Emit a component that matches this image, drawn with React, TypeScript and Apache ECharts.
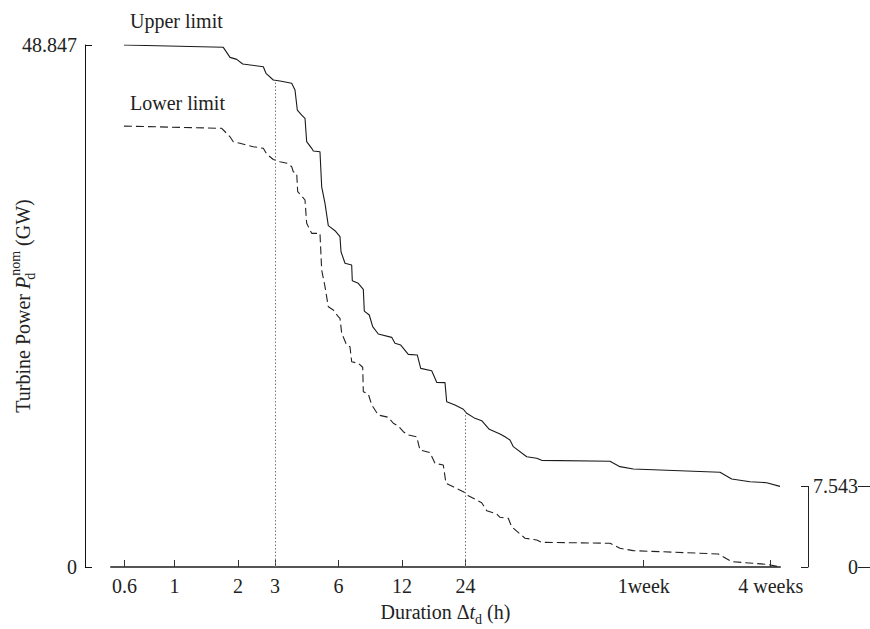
import React, { useEffect, useRef } from "react";
import * as echarts from "echarts";

// Duration (hours) and turbine power (GW)
const upperHours = [0.576, 1.704, 1.834, 1.973, 2.106, 2.638, 2.716, 2.942, 3.165, 3.596, 3.729, 3.824, 4.012, 4.159, 4.236, 4.474, 4.553, 4.898, 4.99, 5.174, 5.364, 5.771, 6.095, 6.162, 6.437, 6.924, 6.97, 7.44, 7.862, 7.948, 8.39, 8.71, 9.26, 10.72, 11.11, 11.83, 12.85, 14.17, 14.71, 16.59, 17.52, 19.18, 19.54, 21.39, 23.43, 24.31, 26.62, 28.64, 31.11, 34.98, 36.94, 39.0, 40.45, 46.81, 52.21, 55.14, 116.2, 129.6, 149.9, 386.4, 439.1, 536.3, 643.5, 744];
const upperGW = [48.847, 48.63, 47.69, 47.5, 47.07, 46.81, 46.2, 45.57, 45.48, 45.26, 44.63, 42.76, 42.29, 41.99, 39.8, 39.18, 38.93, 38.86, 35.58, 34.03, 31.94, 31.47, 30.91, 29.5, 28.42, 28.26, 26.79, 26.55, 25.98, 23.95, 23.58, 22.49, 21.8, 21.49, 20.93, 20.77, 19.9, 19.84, 18.59, 18.37, 17.28, 17.25, 15.47, 15.16, 14.76, 14.38, 13.91, 13.69, 12.88, 12.45, 12.19, 11.88, 11.26, 10.32, 10.17, 9.98, 9.89, 9.39, 9.17, 8.86, 8.23, 7.98, 7.89, 7.543];

const lowerHours = [0.576, 1.675, 1.834, 1.9, 2.045, 2.365, 2.638, 2.737, 2.942, 3.165, 3.418, 3.596, 3.659, 3.798, 3.84, 4.012, 4.159, 4.236, 4.474, 4.898, 4.99, 5.174, 5.364, 5.666, 5.984, 6.095, 6.209, 6.556, 6.797, 6.924, 7.44, 7.81, 7.862, 8.3, 8.62, 9.26, 10.33, 10.91, 11.52, 12.17, 12.85, 14.08, 14.6, 16.28, 17.2, 18.83, 19.39, 21.0, 23.43, 24.74, 28.64, 30.25, 33.74, 34.98, 38.29, 39.73, 45.95, 52.21, 55.14, 116.2, 129.6, 149.9, 379.2, 439.1, 643.5, 744];
const lowerGW = [41.26, 41.05, 40.26, 39.8, 39.65, 39.33, 39.18, 38.65, 38.13, 37.92, 37.78, 37.46, 36.99, 36.84, 35.12, 34.72, 34.34, 32.16, 31.22, 31.22, 27.79, 26.23, 24.36, 24.05, 23.42, 23.27, 21.87, 20.77, 20.61, 19.21, 19.06, 18.69, 16.4, 16.19, 15.16, 14.22, 14.01, 13.45, 13.19, 12.66, 12.35, 12.19, 10.95, 10.7, 9.7, 9.54, 7.83, 7.51, 7.05, 6.67, 6.02, 5.27, 4.96, 4.65, 4.56, 3.77, 2.69, 2.53, 2.31, 2.22, 1.75, 1.53, 1.22, 0.5, 0.25, 0];

const xTickHours = [0.58, 1, 2, 3, 6, 12, 24, 168, 672];
const xTickLabels = ["0.6", "1", "2", "3", "6", "12", "24", "1week", "4 weeks"];
const xMinHours = 0.5;
const xMaxHours = 744;

const yLeftTicks = [0, 48.847];
const yRightTicks = [0, 7.543];
const markerHours = [3, 24];

const FONT = '"Liberation Serif", "Times New Roman", serif';
const FS = 20;
const L = (h: number) => Math.log10(h);

function interpUpper(h: number) {
  const lh = L(h);
  for (let i = 0; i < upperHours.length - 1; i++) {
    const a = L(upperHours[i]);
    const b = L(upperHours[i + 1]);
    if (lh >= a && lh <= b) {
      const t = (lh - a) / (b - a);
      return upperGW[i] + t * (upperGW[i + 1] - upperGW[i]);
    }
  }
  return upperGW[upperGW.length - 1];
}

export default function App() {
  const ref = useRef<HTMLDivElement>(null);
  useEffect(() => {
    document.body.style.margin = "0";
    if (!ref.current) return;
    const chart = echarts.init(ref.current, undefined, { renderer: "svg" });
    const tickLogs = xTickHours.map(L);
    const fmtX = (v: number) => {
      let best = 0;
      let bd = Infinity;
      tickLogs.forEach((t, i) => {
        const d = Math.abs(t - v);
        if (d < bd) {
          bd = d;
          best = i;
        }
      });
      return xTickLabels[best];
    };
    const fmtY = (v: number) => (Math.abs(v) < 1e-9 ? "0" : String(v));
    const richBase = {
      it: { fontStyle: "italic", fontSize: FS, fontFamily: FONT, color: "#222" },
      sub: { fontSize: 14, fontFamily: FONT, color: "#222", padding: [15, 0, 0, 0] },
      subz: { fontSize: 14, fontFamily: FONT, color: "#222", padding: [15, 0, 0, 0], width: 1 },
      sup: { fontSize: 14, fontFamily: FONT, color: "#222", padding: [0, 0, 15, 0] },
    };
    const option: any = {
      animation: false,
      textStyle: { fontFamily: FONT },
      grid: [
        { left: 111, right: 90, top: 45, bottom: 62, outerBoundsMode: "none", containLabel: false },
        { left: 700, right: 62, top: 486.4, bottom: 62, outerBoundsMode: "none", containLabel: false },
      ],
      xAxis: [
        {
          type: "value",
          gridIndex: 0,
          min: L(xMinHours),
          max: L(xMaxHours),
          axisLine: { show: true, onZero: false, lineStyle: { color: "#555", width: 2 } },
          axisTick: {
            show: true,
            inside: true,
            length: 7,
            customValues: tickLogs,
            lineStyle: { color: "#333", width: 1 },
          },
          axisLabel: {
            customValues: tickLogs,
            formatter: fmtX,
            margin: 9,
            fontSize: FS,
            fontFamily: FONT,
            color: "#222",
          },
          splitLine: { show: false },
          name: "Duration Δ{it|t}{sub|d} (h)",
          nameLocation: "middle",
          nameGap: 30,
          nameMoveOverlap: false,
          nameTextStyle: { fontSize: FS, fontFamily: FONT, color: "#222", rich: richBase },
        },
        { type: "value", gridIndex: 1, show: false, min: 0, max: 1 },
      ],
      yAxis: [
        {
          type: "value",
          gridIndex: 0,
          min: 0,
          max: 48.847,
          offset: 26,
          axisLine: { show: true, onZero: false, lineStyle: { color: "#111", width: 1 } },
          axisTick: { show: true, inside: true, length: 7, customValues: yLeftTicks, lineStyle: { color: "#111" } },
          axisLabel: { customValues: yLeftTicks, formatter: fmtY, margin: 8, fontSize: FS, fontFamily: FONT, color: "#222" },
          splitLine: { show: false },
          name: "Turbine Power {it|P}{subz|d}{sup|nom} (GW)",
          nameLocation: "middle",
          nameGap: 48,
          nameMoveOverlap: false,
          nameRotate: 90,
          nameTextStyle: { fontSize: FS, fontFamily: FONT, color: "#222", rich: richBase },
        },
        {
          type: "value",
          gridIndex: 1,
          position: "right",
          min: 0,
          max: 7.543,
          axisLine: { show: true, onZero: false, lineStyle: { color: "#222", width: 1 } },
          axisTick: { show: true, inside: true, length: 7, customValues: yRightTicks, lineStyle: { color: "#222" } },
          axisLabel: {
            customValues: yRightTicks,
            formatter: fmtY,
            align: "right",
            margin: 50,
            fontSize: FS,
            fontFamily: FONT,
            color: "#222",
          },
          splitLine: { show: false },
        },
        {
          type: "value",
          gridIndex: 1,
          position: "right",
          offset: 50,
          min: 0,
          max: 7.543,
          axisLine: { show: false, onZero: false },
          axisTick: { show: true, inside: false, length: 12, customValues: yRightTicks, lineStyle: { color: "#222" } },
          axisLabel: { show: false },
          splitLine: { show: false },
        },
      ],
      graphic: [
        { type: "text", left: 130, top: 11, style: { text: "Upper limit", font: `${FS}px ${FONT}`, fill: "#222" } },
        { type: "text", left: 130, top: 93, style: { text: "Lower limit", font: `${FS}px ${FONT}`, fill: "#222" } },
      ],
      series: [
        {
          type: "line",
          xAxisIndex: 0,
          yAxisIndex: 0,
          data: upperHours.map((h, i) => [L(h), upperGW[i]]),
          showSymbol: false,
          lineStyle: { color: "#1a1a1a", width: 1.1 },
          z: 3,
          markLine: {
            silent: true,
            symbol: "none",
            label: { show: false },
            lineStyle: { type: [1.5, 2], color: "#777", width: 1 },
            data: markerHours.map((h) => [
              { coord: [L(h), 0] },
              { coord: [L(h), interpUpper(h)] },
            ]),
          },
        },
        {
          type: "line",
          xAxisIndex: 0,
          yAxisIndex: 0,
          data: lowerHours.map((h, i) => [L(h), lowerGW[i]]),
          showSymbol: false,
          lineStyle: { color: "#222", width: 1.1, type: [8, 4] },
          z: 3,
        },
      ],
    };
    chart.setOption(option);
    return () => chart.dispose();
  }, []);
  return <div ref={ref} style={{ width: 870, height: 629 }} />;
}
